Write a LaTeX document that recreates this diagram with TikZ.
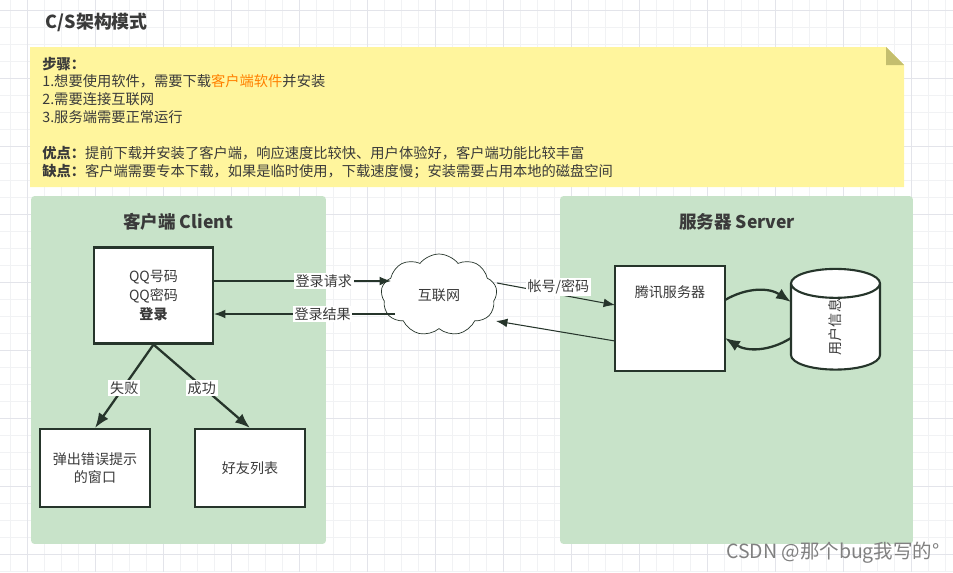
\documentclass[tikz,border=0pt]{standalone}
\usepackage{fontspec}
\setmainfont{Noto Sans CJK SC}
\usepackage{xcolor}
\usepackage{tikz}
\usetikzlibrary{shapes.geometric, shapes.symbols, arrows.meta, positioning}
\definecolor{linedark}{HTML}{26352B}
\definecolor{textdark}{HTML}{3A3A3A}
\definecolor{panelgreen}{HTML}{C8E3C9}
\definecolor{noteyellow}{HTML}{FFF59D}
\definecolor{foldolive}{HTML}{C4BE6E}
\definecolor{gridminor}{HTML}{F1F2F4}
\definecolor{gridmajor}{HTML}{E3E4EA}
\tikzstyle{thin-arrow} = [-{Latex[length=6.5pt,width=5pt]}, line width=0.6pt, linedark]
\tikzstyle{thick-arrow} = [-{Latex[length=8.5pt,width=6.5pt]}, line width=1.3pt, linedark]
\tikzstyle{box} = [rectangle, draw=linedark, fill=white, line width=1.2pt, inner sep=0pt, text=textdark, align=center, font=\fontsize{8}{10.6}\selectfont]
\tikzstyle{panel} = [rectangle, fill=panelgreen, rounded corners=2pt, minimum height=6.96cm]
\tikzstyle{paneltitle} = [font=\fontsize{10}{12}\selectfont\bfseries, text=textdark]
\tikzstyle{tag} = [fill=white, inner sep=1pt, text=textdark, font=\fontsize{8}{10}\selectfont]
\begin{document}
\begin{tikzpicture}[x=0.02cm, y=-0.02cm]
  \useasboundingbox (0,0) rectangle (953,572);

  % Grid
  \foreach \i in {0,...,56} {
    \draw[gridminor, line width=0.4pt] ({10.5+17*\i},0) -- ({10.5+17*\i},572);
  }
  \foreach \i in {0,...,33} {
    \draw[gridminor, line width=0.4pt] (0,{10+17*\i}) -- (953,{10+17*\i});
  }
  \foreach \i in {0,...,13} {
    \draw[gridmajor, line width=0.4pt] ({27.5+68*\i},0) -- ({27.5+68*\i},572);
  }
  \foreach \i in {0,...,8} {
    \draw[gridmajor, line width=0.4pt] (0,{10+68*\i}) -- (953,{10+68*\i});
  }

  % Title
  \node (title) [anchor=west, inner sep=0pt, text=textdark, font=\fontsize{10.2}{12}\selectfont\bfseries] at (45.5,22) {C/S架构模式};

  % Note
  \fill[noteyellow] (30,47) -- (886,47) -- (904,65) -- (904,187) -- (30,187) -- cycle;
  \fill[foldolive] (886,47) -- (904,65) -- (886,65) -- cycle;
  \node (steps) [anchor=north west, inner sep=0pt, align=left, text=textdark, font=\fontsize{8.12}{10.15}\selectfont] at (42,56.5) {%
    \textbf{步骤：}\\
    1.想要使用软件，需要下载\textcolor{orange}{客户端软件}并安装\\
    2.需要连接互联网\\
    3.服务端需要正常运行\\
    \mbox{}\\
    \textbf{优点：}提前下载并安装了客户端，响应速度比较快、用户体验好，客户端功能比较丰富\\
    \textbf{缺点：}客户端需要专本下载，如果是临时使用，下载速度慢；安装需要占用本地的磁盘空间};

  % Panels
  \node (client) [panel, minimum width=5.9cm] at (178.5,370) {};
  \node (server) [panel, minimum width=7.06cm] at (736.5,370) {};
  \node (clienttitle) [paneltitle] at (178,222) {客户端 Client};
  \node (servertitle) [paneltitle] at (737,222) {服务器 Server};

  % Nodes
  \node (login) [box, minimum width=2.38cm, minimum height=1.92cm] at (153.5,295.5) {QQ号码\\QQ密码\\\textbf{登录}};
  \node (fail) [box, minimum width=2.2cm, minimum height=1.56cm] at (95,468) {弹出错误提示\\的窗口};
  \node (friends) [box, minimum width=2.2cm, minimum height=1.56cm] at (250,468) {好友列表};
  \node (net) [cloud, cloud puffs=9, cloud puff arc=105, aspect=1.4, draw=linedark, fill=white, inner sep=0pt, minimum width=2.32cm, minimum height=1.64cm, text=textdark, font=\fontsize{8}{10}\selectfont] at (439,295) {互联网};
  \node (tencent) [box, minimum width=2.2cm, minimum height=2.1cm] at (670,318.5) {};
  \node (tencenttxt) [text=textdark, font=\fontsize{8}{10}\selectfont] at (670,292) {腾讯服务器};
  \node (db) [cylinder, rotate=90, shape aspect=2.2, draw=linedark, fill=white, line width=1.2pt, inner sep=0pt, minimum width=1.78cm, minimum height=1.8cm, text=textdark, font=\fontsize{8}{10}\selectfont] at (835.5,327) {用户信息};

  % Connector ends
  \coordinate (reqend) at (391,281);
  \coordinate (resstart) at (395,314);
  \coordinate (accstart) at (497,283);
  \coordinate (accend) at (615,305);
  \coordinate (backstart) at (615,341);
  \coordinate (backend) at (496,321);
  \coordinate (dbin) at (791,302);
  \coordinate (dbout) at (791,338);
  \coordinate (srvout) at (725,300);
  \coordinate (srvin) at (725,338);

  % Arrows with labels
  \draw[thin-arrow] (login.east |- reqend) -- node[tag, pos=0.62] {登录请求} (reqend);
  \draw[thin-arrow] (resstart) -- node[tag, pos=0.4] {登录结果} (login.east |- resstart);
  \draw[thin-arrow] (accstart) -- node[tag, pos=0.52, yshift=4.5pt] {帐号/密码} (accend);
  \draw[thin-arrow] (backstart) -- (backend);
  \draw[thick-arrow] (login.south) -- node[tag, pos=0.5, yshift=-1pt] {失败} (fail.north);
  \draw[thick-arrow] (login.south) -- node[tag, pos=0.5, yshift=-1pt] {成功} (friends.north);
  \draw[thick-arrow] (srvout) to[bend left=32] (dbin);
  \draw[thick-arrow] (dbout) to[bend left=32] (srvin);

  % Watermark
  \node (mark) [anchor=east, inner sep=0pt, text=gray, font=\fontsize{11.1}{13}\selectfont] at (940,553) {CSDN @那个bug我写的°};

\end{tikzpicture}
\end{document}
